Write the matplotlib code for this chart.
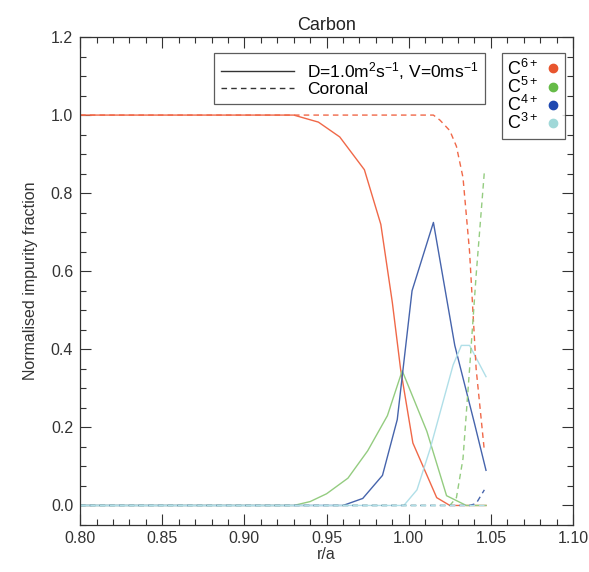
import numpy as np
import matplotlib
matplotlib.use("Agg")
import matplotlib.pyplot as plt
from matplotlib.lines import Line2D
from matplotlib.ticker import FormatStrFormatter

plt.rcParams["font.family"] = ["Liberation Sans", "DejaVu Sans"]
plt.rcParams["mathtext.fontset"] = "custom"
plt.rcParams["mathtext.rm"] = "Liberation Sans"
plt.rcParams["mathtext.it"] = "Liberation Sans"

# solid: D=1.0 m2/s, V=0
r_c6 = [0.80, 0.93, 0.945, 0.958, 0.973, 0.983, 0.99, 0.995, 1.0025, 1.017, 1.025, 1.047]
f_c6 = [1.0, 1.0, 0.982, 0.944, 0.86, 0.72, 0.52, 0.35, 0.16, 0.02, 0.0, 0.0]

r_c5 = [0.80, 0.93, 0.94, 0.95, 0.963, 0.975, 0.987, 0.996, 1.011, 1.023, 1.035, 1.047]
f_c5 = [0.0, 0.0, 0.01, 0.03, 0.07, 0.14, 0.23, 0.345, 0.19, 0.025, 0.0, 0.0]

r_c4 = [0.80, 0.96, 0.972, 0.984, 0.993, 0.996, 1.002, 1.015, 1.028, 1.04, 1.047]
f_c4 = [0.0, 0.0, 0.018, 0.077, 0.22, 0.33, 0.55, 0.725, 0.41, 0.21, 0.09]

r_c3 = [0.80, 0.997, 1.005, 1.013, 1.027, 1.032, 1.037, 1.047]
f_c3 = [0.0, 0.0, 0.04, 0.145, 0.36, 0.41, 0.41, 0.33]

# dashed: coronal equilibrium
r_cor = [0.80, 1.015, 1.019, 1.025, 1.029, 1.033, 1.037, 1.041, 1.046]
c6_cor = [1.0, 1.0, 0.987, 0.96, 0.92, 0.84, 0.65, 0.35, 0.14]
c5_cor = [0.0, 0.0, 0.0, 0.0, 0.02, 0.12, 0.35, 0.59, 0.855]
c4_cor = [0.0, 0.0, 0.0, 0.0, 0.0, 0.0, 0.0, 0.005, 0.04]
c3_cor = [0.0, 0.0, 0.0, 0.0, 0.0, 0.0, 0.0, 0.0, 0.0]

ion_labels = ["C$^{6+}$", "C$^{5+}$", "C$^{4+}$", "C$^{3+}$"]
line_colors = ["#f06848", "#94cc80", "#4664ac", "#b0dfe8"]
dot_colors = ["#e8552e", "#66bb48", "#1e48b0", "#a0d8d8"]

fig = plt.figure(figsize=(5.89, 5.72), dpi=100)
ax = fig.add_axes([0.136, 0.0822, 0.837, 0.8531])

solid = [(r_c6, f_c6), (r_c5, f_c5), (r_c4, f_c4), (r_c3, f_c3)]
for (r, f), c in zip(solid, line_colors):
    ax.plot(r, f, color=c, lw=1.0)

dashed = [c6_cor, c5_cor, c4_cor, c3_cor]
for f, c in zip(dashed, line_colors):
    ax.plot(r_cor, f, color=c, lw=1.0, ls=(0, (4, 3)))

ax.set_xlim(0.80, 1.10)
ax.set_ylim(-0.05, 1.2)
ax.set_xticks(np.arange(0.80, 1.101, 0.05))
ax.set_xticks(np.arange(0.80, 1.101, 0.01), minor=True)
ax.set_yticks(np.arange(0.0, 1.201, 0.2))
ax.set_yticks(np.arange(-0.05, 1.201, 0.05), minor=True)
ax.xaxis.set_major_formatter(FormatStrFormatter("%.2f"))
ax.yaxis.set_major_formatter(FormatStrFormatter("%.1f"))
ax.tick_params(which="both", direction="in", top=True, right=True, labelsize=11.5, colors="#333333")
ax.tick_params(which="major", length=8, width=0.8)
ax.tick_params(which="minor", length=4, width=0.8)
ax.tick_params(axis="x", pad=4)
ax.tick_params(axis="y", pad=5)
for s in ax.spines.values():
    s.set_linewidth(0.9)
    s.set_color("#333333")

ax.set_xlabel("r/a", fontsize=11.5, color="#333333", labelpad=1)
ax.set_ylabel("Normalised impurity fraction", fontsize=11.5, color="#333333", labelpad=9)
ax.set_title("Carbon", fontsize=13, color="#222222", pad=5)

h1 = [Line2D([], [], color="#333333", lw=1.0),
      Line2D([], [], color="#333333", lw=1.0, ls=(0, (4, 3)))]
leg1 = fig.legend(h1, ["D=1.0m$^{2}$s$^{-1}$, V=0ms$^{-1}$", "Coronal"],
                  loc="upper left", bbox_to_anchor=(0.3633, 0.9073), fontsize=12.5,
                  frameon=True, fancybox=False, handlelength=4.2, borderpad=0.4,
                  labelspacing=0.0, handletextpad=0.75, borderaxespad=0)
leg1.get_frame().set_edgecolor("#333333")
leg1.get_frame().set_linewidth(0.9)

h2 = [Line2D([], [], ls="none", marker="o", ms=6, color=c) for c in dot_colors]
leg2 = fig.legend(h2, ion_labels, loc="upper left", bbox_to_anchor=(0.852, 0.9073),
                  fontsize=13, frameon=True, fancybox=False, markerfirst=False,
                  handlelength=0.8, handletextpad=0.4, borderpad=0.3,
                  labelspacing=-0.1, borderaxespad=0)
leg2.get_frame().set_edgecolor("#333333")
leg2.get_frame().set_linewidth(0.9)

fig.savefig("out.png", dpi=100)
